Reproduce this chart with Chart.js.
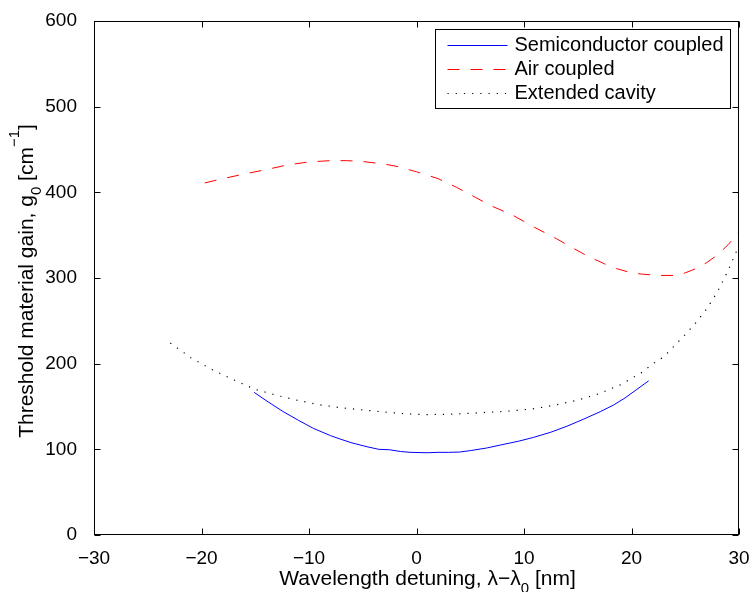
<!DOCTYPE html>
<html>
<head>
<meta charset="utf-8">
<script src="https://cdn.jsdelivr.net/npm/chart.js@4.4.0/dist/chart.umd.min.js"></script>
<style>
    html, body { margin: 0; padding: 0; background: #fff; }
    canvas { display: block; }
</style>
</head>
<body>
<canvas id="chart" width="753" height="592"></canvas>
<script>
// values
var semX = [-15.1, -14, -12.4, -11, -9.6, -8, -7.1, -6, -4.6, -3.5, -2.5, -1.5, -0.6, 1, 2, 3, 4, 5, 6.5, 7.8, 9.5, 10.9, 12.5, 14, 15.5, 17.1, 18.3, 19.4, 20.5, 21.6];
var semY = [166.5, 157, 144, 134, 124.5, 116, 112, 107.5, 103, 100, 99.5, 97.5, 96.5, 96, 96.5, 96.5, 96.8, 98.5, 101.5, 105, 109.5, 114, 120, 127, 135, 144, 151.5, 160, 170, 180];

var airX = [-19.7, -18, -16, -14, -12, -10, -8, -6.5, -5, -3, -1.7, 0, 2, 3.7, 5.5, 7, 9, 11, 13, 14.4, 16, 17.5, 18.6, 20, 21, 22.5, 24, 25, 26, 27, 28, 29, 30];
var airY = [411, 416, 421.5, 426.5, 432, 435.5, 437, 437, 436, 433, 430, 424, 416, 406, 394, 384, 373, 359, 346, 336, 325, 316.5, 311, 306, 304.5, 303, 303, 306, 311, 318, 327, 339, 354];

var extX = [-22.9, -21, -19, -17, -15, -13, -11, -9, -7, -5, -3, -1, 1, 3, 5, 7, 9, 11, 13, 15, 17, 19, 21, 22, 23, 24, 25, 26, 27, 28, 29, 30];
var extY = [224, 207, 193, 181, 170, 163, 157, 152, 148.5, 146, 143.5, 141.5, 140.5, 141, 142, 143.5, 145, 147.5, 152, 157.5, 165, 175.5, 190, 200, 208, 221, 234, 248, 264, 284, 309, 338];

var xTicks = [-30, -20, -10, 0, 10, 20, 30];
var yTicks = [0, 100, 200, 300, 400, 500, 600];

var seriesNames = ["Semiconductor coupled", "Air coupled", "Extended cavity"];
var xTitle = [{t: "Wavelength detuning, \u03bb\u2212\u03bb"}, {t: "0", sub: true}, {t: " [nm]"}];
var yTitle = [{t: "Threshold material gain, g"}, {t: "0", sub: true}, {t: " [cm"}, {t: "\u22121", sup: true}, {t: "]"}];

var FONT = "'Liberation Sans', Arial, Helvetica, sans-serif";

function pts(xs, ys) {
    var out = [];
    for (var i = 0; i < xs.length; i++) {
        out.push({x: xs[i], y: ys[i]});
    }
    return out;
}

function fmt(value) {
    return value < 0 ? "\u2212" + (-value) : String(value);
}

// draws text pieces with sub/superscripts, centred on x
function drawRich(ctx, parts, cx, y, size) {
    var small = Math.round(size * 0.7);
    var total = 0;
    var widths = [];
    for (var i = 0; i < parts.length; i++) {
        var p = parts[i];
        ctx.font = (p.sub || p.sup ? small : size) + "px " + FONT;
        widths.push(ctx.measureText(p.t).width);
        total += widths[i];
    }
    var x = cx - total / 2;
    ctx.textAlign = "left";
    ctx.textBaseline = "alphabetic";
    for (var j = 0; j < parts.length; j++) {
        var q = parts[j];
        var dy = q.sub ? 8 : (q.sup ? -14 : 0);
        ctx.font = (q.sub || q.sup ? small : size) + "px " + FONT;
        ctx.fillText(q.t, x, y + dy);
        x += widths[j];
    }
}

var matlabLook = {
    id: "matlabLook",
    afterDraw: function(chart) {
        var ctx = chart.ctx;
        var a = chart.chartArea;
        var xs = chart.scales.x;
        var ys = chart.scales.y;
        var l = Math.round(a.left) + 0.5, r = Math.round(a.right) - 0.5;
        var t = Math.round(a.top) + 0.5, b = Math.round(a.bottom) - 0.5;
        var tick = 6;

        ctx.save();
        ctx.strokeStyle = "#000";
        ctx.lineWidth = 1;
        ctx.setLineDash([]);
        ctx.strokeRect(l, t, r - l, b - t);
        ctx.beginPath();
        xTicks.forEach(function(v) {
            var px = Math.round(xs.getPixelForValue(v)) + 0.5;
            ctx.moveTo(px, b); ctx.lineTo(px, b - tick);
            ctx.moveTo(px, t); ctx.lineTo(px, t + tick);
        });
        yTicks.forEach(function(v) {
            var py = Math.round(ys.getPixelForValue(v)) + 0.5;
            ctx.moveTo(l, py); ctx.lineTo(l + tick, py);
            ctx.moveTo(r, py); ctx.lineTo(r - tick, py);
        });
        ctx.stroke();

        // legend box, top right inside the axes
        var ds = chart.data.datasets;
        ctx.font = "20px " + FONT;
        var maxW = 0;
        ds.forEach(function(d) { maxW = Math.max(maxW, ctx.measureText(d.label).width); });
        var boxW = Math.round(79 + maxW + 7);
        var boxH = 79;
        var bx = Math.round(a.right) - 9 - boxW + 0.5;
        var by = Math.round(a.top) + 8 + 0.5;
        ctx.fillStyle = "#fff";
        ctx.fillRect(bx, by, boxW, boxH);
        ctx.strokeRect(bx, by, boxW, boxH);
        ctx.textAlign = "left";
        ctx.textBaseline = "middle";
        ds.forEach(function(d, i) {
            var ry = Math.round(by + 15 + i * 24) + 0.5;
            ctx.strokeStyle = d.borderColor;
            ctx.lineWidth = d.borderWidth;
            ctx.setLineDash(d.borderDash || []);
            ctx.beginPath();
            ctx.moveTo(bx + 12, ry);
            ctx.lineTo(bx + 72, ry);
            ctx.stroke();
            ctx.fillStyle = "#000";
            ctx.fillText(d.label, bx + 79, ry);
        });
        ctx.setLineDash([]);

        // axis titles
        ctx.fillStyle = "#000";
        drawRich(ctx, xTitle, (a.left + a.right) / 2 + 11, 585, 21);
        ctx.translate(32.5, (a.top + a.bottom) / 2 + 3);
        ctx.rotate(-Math.PI / 2);
        drawRich(ctx, yTitle, 0, 0, 21);
        ctx.restore();
    }
};

var tickFont = {family: FONT, size: 19};

var chart = new Chart(document.getElementById("chart"), {
    type: "scatter",
    data: {
        datasets: [
            {label: seriesNames[0], data: pts(semX, semY), showLine: true, borderColor: "#0000ff", borderWidth: 1, borderDash: []},
            {label: seriesNames[1], data: pts(airX, airY), showLine: true, borderColor: "#ff0000", borderWidth: 1, borderDash: [12, 11]},
            {label: seriesNames[2], data: pts(extX, extY), showLine: true, borderColor: "#000000", borderWidth: 1.2, borderDash: [1.2, 7]}
        ]
    },
    options: {
        responsive: false,
        animation: false,
        devicePixelRatio: 1,
        elements: {point: {radius: 0, hoverRadius: 0}, line: {tension: 0}},
        layout: {padding: {top: 21, right: 14, left: 0, bottom: 0}},
        plugins: {legend: {display: false}, tooltip: {enabled: false}},
        scales: {
            x: {
                type: "linear", min: -30, max: 30,
                grid: {display: false}, border: {display: false},
                afterBuildTicks: function(s) { s.ticks = xTicks.map(function(v) { return {value: v}; }); },
                afterFit: function(s) { s.height = 57; s.paddingLeft = 0; s.paddingRight = 0; },
                ticks: {font: tickFont, color: "#000", padding: 4, maxRotation: 0, autoSkip: false, callback: fmt}
            },
            y: {
                type: "linear", min: 0, max: 600,
                grid: {display: false}, border: {display: false},
                afterBuildTicks: function(s) { s.ticks = yTicks.map(function(v) { return {value: v}; }); },
                afterFit: function(s) { s.width = 94; s.paddingTop = 0; s.paddingBottom = 0; },
                ticks: {font: tickFont, color: "#000", padding: 9, autoSkip: false, callback: fmt}
            }
        }
    },
    plugins: [matlabLook]
});
</script>
</body>
</html>
